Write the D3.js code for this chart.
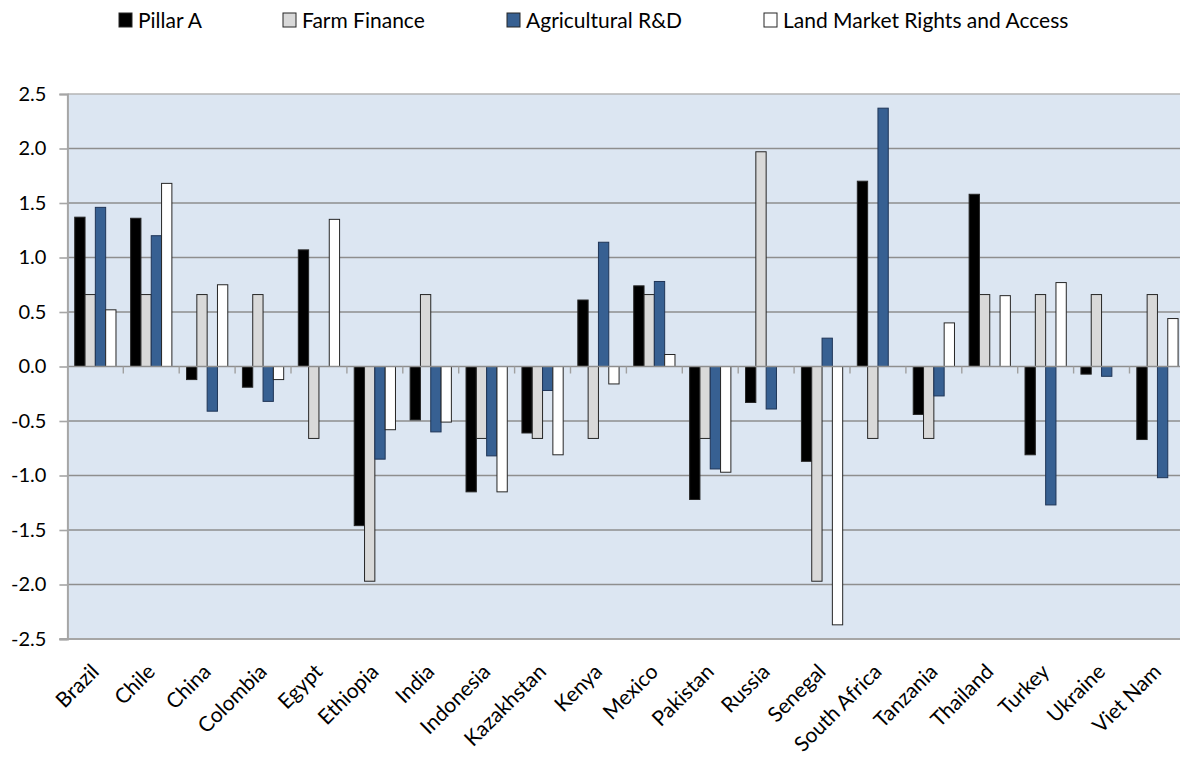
<!DOCTYPE html>
<html>
<head>
<meta charset="utf-8">
<script src="https://cdn.jsdelivr.net/npm/d3@7"></script>
<style>
  body { margin: 0; background: #fff; }
  text { font-family: Lato, "Open Sans", sans-serif; fill: #000; }
</style>
</head>
<body>
<div id="chart"></div>
<script>
// data
const countries = ['Brazil', 'Chile', 'China', 'Colombia', 'Egypt', 'Ethiopia', 'India', 'Indonesia',
  'Kazakhstan', 'Kenya', 'Mexico', 'Pakistan', 'Russia', 'Senegal', 'South Africa', 'Tanzania',
  'Thailand', 'Turkey', 'Ukraine', 'Viet Nam'];
const seriesNames = ['Pillar A', 'Farm Finance', 'Agricultural R&D', 'Land Market Rights and Access'];
const pillarA = [1.37, 1.36, -0.12, -0.19, 1.07, -1.46, -0.49, -1.15, -0.61, 0.61, 0.74, -1.22,
  -0.33, -0.87, 1.70, -0.44, 1.58, -0.81, -0.07, -0.67];
const farmFinance = [0.66, 0.66, 0.66, 0.66, -0.66, -1.97, 0.66, -0.66, -0.66, -0.66, 0.66, -0.66,
  1.97, -1.97, -0.66, -0.66, 0.66, 0.66, 0.66, 0.66];
const agriRD = [1.46, 1.20, -0.41, -0.32, null, -0.85, -0.60, -0.82, -0.22, 1.14, 0.78, -0.94,
  -0.39, 0.26, 2.37, -0.27, null, -1.27, -0.09, -1.02];
const landMarket = [0.52, 1.68, 0.75, -0.12, 1.35, -0.58, -0.51, -1.15, -0.81, -0.16, 0.11, -0.97,
  null, -2.37, null, 0.40, 0.65, 0.77, null, 0.44];
const yTicks = [-2.5, -2.0, -1.5, -1.0, -0.5, 0.0, 0.5, 1.0, 1.5, 2.0, 2.5];

const seriesValues = [pillarA, farmFinance, agriRD, landMarket];
const fills = ['#000000', '#d9d9d9', '#376092', '#ffffff'];

// svg領域
const svgWidth = 1180;
const svgHeight = 760;
const svg = d3.select('#chart')
  .append('svg')
  .attr('width', svgWidth)
  .attr('height', svgHeight);

const plot = { left: 67.4, right: 1185.4, top: 94, bottom: 639 };

const x = d3.scaleBand()
  .domain(countries)
  .range([plot.left, plot.right]);
const xs = d3.scaleBand()
  .domain(d3.range(4))
  .range([0, x.bandwidth()])
  .paddingOuter(0.71);
const y = d3.scaleLinear()
  .domain([-2.5, 2.5])
  .range([plot.bottom, plot.top]);

// plot background
svg.append('rect')
  .attr('x', plot.left)
  .attr('y', plot.top)
  .attr('width', plot.right - plot.left)
  .attr('height', plot.bottom - plot.top)
  .attr('fill', '#dce6f2');

// grid
svg.append('g')
  .selectAll('line')
  .data(yTicks.filter(d => d !== 0 && d !== -2.5))
  .join('line')
  .attr('x1', plot.left)
  .attr('x2', plot.right)
  .attr('y1', d => y(d))
  .attr('y2', d => y(d))
  .attr('stroke', d => d === 2.5 ? '#b4b4b4' : '#8e8e8e')
  .attr('stroke-width', 1.4);

// bars
const groups = svg.append('g')
  .selectAll('g')
  .data(countries)
  .join('g')
  .attr('transform', d => `translate(${x(d)},0)`);

groups.selectAll('rect')
  .data((d, i) => seriesValues.map((s, k) => ({ k, v: s[i] })).filter(e => e.v !== null))
  .join('rect')
  .attr('x', d => xs(d.k))
  .attr('width', xs.bandwidth())
  .attr('y', d => y(Math.max(0, d.v)))
  .attr('height', d => Math.abs(y(d.v) - y(0)))
  .attr('fill', d => fills[d.k])
  .attr('stroke', d => d.k === 2 ? '#1f3557' : '#262626')
  .attr('stroke-width', 1);

// zero axis with category ticks
svg.append('line')
  .attr('x1', plot.left)
  .attr('x2', plot.right)
  .attr('y1', y(0))
  .attr('y2', y(0))
  .attr('stroke', '#8e8e8e')
  .attr('stroke-width', 1.6);
svg.append('g')
  .selectAll('line')
  .data(countries.slice(1))
  .join('line')
  .attr('x1', d => x(d))
  .attr('x2', d => x(d))
  .attr('y1', y(0))
  .attr('y2', y(0) + 7)
  .attr('stroke', '#a0a0a0')
  .attr('stroke-width', 1.4);

// bottom border
svg.append('line')
  .attr('x1', plot.left - 8)
  .attr('x2', plot.right)
  .attr('y1', plot.bottom)
  .attr('y2', plot.bottom)
  .attr('stroke', '#a6a6a6')
  .attr('stroke-width', 2);

// y axis
const fmt = d3.format('.1f');
const yAxis = svg.append('g')
  .attr('transform', `translate(${plot.left},0)`)
  .call(d3.axisLeft(y).tickValues(yTicks)
    .tickFormat(d => fmt(d).replace('\u2212', '-'))
    .tickSize(8).tickPadding(13));
yAxis.select('.domain').attr('stroke', '#a6a6a6').attr('stroke-width', 2);
yAxis.selectAll('.tick line').attr('stroke', '#a6a6a6').attr('stroke-width', 1.6);
yAxis.selectAll('.tick text')
  .style('font-size', '20px')
  .style('font-family', 'Lato, "Open Sans", sans-serif')
  .attr('fill', '#000');

// x labels
svg.append('g')
  .selectAll('text')
  .data(countries)
  .join('text')
  .attr('transform', d => `translate(${x(d) + x.bandwidth() / 2 + 5},673) rotate(-45)`)
  .attr('text-anchor', 'end')
  .style('font-size', '21px')
  .text(d => d);

// legend
const legendX = [119, 283, 507, 764];
const legend = svg.append('g')
  .selectAll('g')
  .data(seriesNames)
  .join('g')
  .attr('transform', (d, i) => `translate(${legendX[i]},13)`);
legend.append('rect')
  .attr('width', 13)
  .attr('height', 14)
  .attr('fill', (d, i) => fills[i])
  .attr('stroke', '#262626')
  .attr('stroke-width', 1);
legend.append('text')
  .attr('x', 19)
  .attr('y', 15)
  .style('font-size', '21px')
  .text(d => d);
</script>
</body>
</html>
